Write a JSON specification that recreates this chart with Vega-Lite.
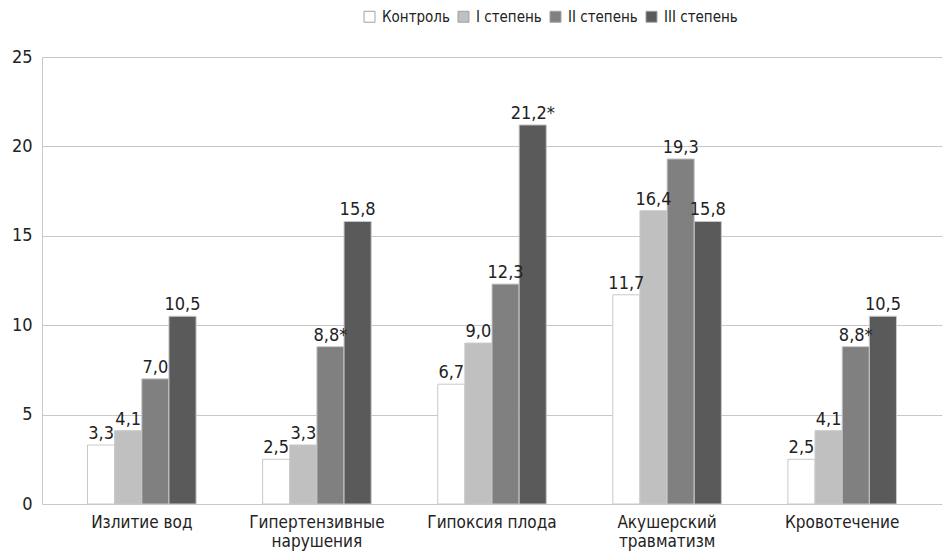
{
  "$schema": "https://vega.github.io/schema/vega-lite/v6.json",
  "width": 900,
  "height": 447,
  "autosize": {"type": "none"},
  "padding": {"left": 42, "top": 57, "right": 4, "bottom": 52},
  "background": "white",
  "config": {
    "font": "DejaVu Sans Condensed",
    "view": {"stroke": null},
    "axis": {"labelFont": "DejaVu Sans Condensed", "labelColor": "#222222", "labelFontSize": 17}
  },
  "data": {
    "values": [
      {"cat": "Излитие вод", "grp": "Контроль", "v": 3.3, "lab": "3,3"},
      {"cat": "Излитие вод", "grp": "I степень", "v": 4.1, "lab": "4,1"},
      {"cat": "Излитие вод", "grp": "II степень", "v": 7.0, "lab": "7,0"},
      {"cat": "Излитие вод", "grp": "III степень", "v": 10.5, "lab": "10,5"},
      {"cat": "Гипертензивные нарушения", "grp": "Контроль", "v": 2.5, "lab": "2,5"},
      {"cat": "Гипертензивные нарушения", "grp": "I степень", "v": 3.3, "lab": "3,3"},
      {"cat": "Гипертензивные нарушения", "grp": "II степень", "v": 8.8, "lab": "8,8*"},
      {"cat": "Гипертензивные нарушения", "grp": "III степень", "v": 15.8, "lab": "15,8"},
      {"cat": "Гипоксия плода", "grp": "Контроль", "v": 6.7, "lab": "6,7"},
      {"cat": "Гипоксия плода", "grp": "I степень", "v": 9.0, "lab": "9,0"},
      {"cat": "Гипоксия плода", "grp": "II степень", "v": 12.3, "lab": "12,3"},
      {"cat": "Гипоксия плода", "grp": "III степень", "v": 21.2, "lab": "21,2*"},
      {"cat": "Акушерский травматизм", "grp": "Контроль", "v": 11.7, "lab": "11,7"},
      {"cat": "Акушерский травматизм", "grp": "I степень", "v": 16.4, "lab": "16,4"},
      {"cat": "Акушерский травматизм", "grp": "II степень", "v": 19.3, "lab": "19,3"},
      {"cat": "Акушерский травматизм", "grp": "III степень", "v": 15.8, "lab": "15,8"},
      {"cat": "Кровотечение", "grp": "Контроль", "v": 2.5, "lab": "2,5"},
      {"cat": "Кровотечение", "grp": "I степень", "v": 4.1, "lab": "4,1"},
      {"cat": "Кровотечение", "grp": "II степень", "v": 8.8, "lab": "8,8*"},
      {"cat": "Кровотечение", "grp": "III степень", "v": 10.5, "lab": "10,5"}
    ]
  },
  "encoding": {
    "x": {
      "field": "cat", "type": "nominal", "sort": null,
      "scale": {"paddingInner": 0.38, "paddingOuter": 0.26},
      "axis": {
        "title": null, "labelAngle": 0, "ticks": false, "domain": false, "labelPadding": 10, "labelLineHeight": 19,
        "labelExpr": "datum.label == 'Гипертензивные нарушения' ? ['Гипертензивные', 'нарушения'] : datum.label == 'Акушерский травматизм' ? ['Акушерский', 'травматизм'] : datum.label"
      }
    },
    "xOffset": {"field": "grp", "type": "nominal", "sort": ["Контроль", "I степень", "II степень", "III степень"], "scale": {"paddingInner": 0, "paddingOuter": 0}},
    "y": {
      "field": "v", "type": "quantitative",
      "scale": {"domain": [0, 25], "nice": false},
      "axis": {"title": null, "values": [0, 5, 10, 15, 20, 25], "ticks": false, "domain": true, "domainColor": "#c8c8c8", "gridColor": "#c8c8c8", "gridWidth": 1.2, "labelPadding": 10, "labelFontSize": 18}
    }
  },
  "layer": [
    {
      "mark": {"type": "bar", "stroke": "#c8c8c8", "strokeWidth": 1},
      "encoding": {
        "color": {
          "field": "grp", "type": "nominal",
          "sort": ["Контроль", "I степень", "II степень", "III степень"],
          "scale": {"domain": ["Контроль", "I степень", "II степень", "III степень"], "range": ["#ffffff", "#c0c0c0", "#808080", "#5a5a5a"]},
          "legend": {
            "title": null, "orient": "none", "direction": "horizontal", "legendX": 320, "legendY": -48,
            "symbolType": "square", "symbolSize": 120, "symbolStrokeColor": "#a0a0a0", "symbolStrokeWidth": 1,
            "labelFontSize": 15, "labelColor": "#222222", "labelFont": "DejaVu Sans Condensed",
            "columnPadding": 6, "labelOffset": 5
          }
        }
      }
    },
    {
      "mark": {"type": "text", "baseline": "bottom", "dy": -2, "fontSize": 18, "color": "#222222", "font": "DejaVu Sans Condensed"},
      "encoding": {"text": {"field": "lab"}}
    }
  ]
}
